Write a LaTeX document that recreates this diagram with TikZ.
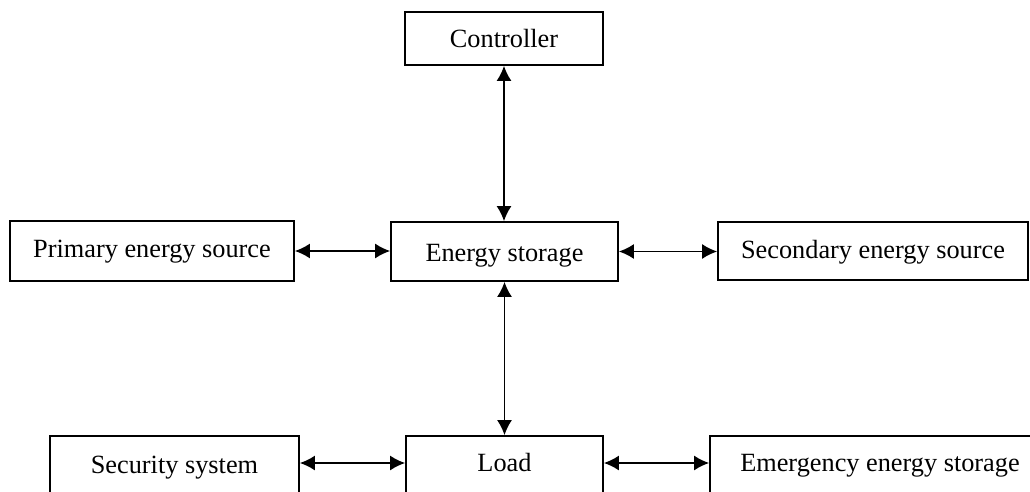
\documentclass[tikz,border=0pt]{standalone}
\usepackage{fontspec}
\setmainfont{Liberation Serif}
\usetikzlibrary{arrows.meta}
\begin{document}
\begin{tikzpicture}[x=1pt,y=-1pt,
  box/.style={draw=black,line width=1.7pt,rectangle,inner sep=0pt,
    text depth=0pt,font=\fontsize{26.3}{30}\selectfont},
  bl/.style={text height=#1},
  link/.style={line width=1.8pt,{Latex[length=15pt,width=15pt]}-{Latex[length=15pt,width=15pt]}}]
\useasboundingbox (0,0) rectangle (1030,492);
\clip (0,0) rectangle (1030,492);
\node[box,bl=19pt,minimum width=198pt,minimum height=53pt] (ctrl) at (504,38.5) {Controller};
\node[box,bl=12pt,minimum width=284pt,minimum height=60pt] (prim) at (152,251) {Primary energy source};
\node[box,bl=20pt,minimum width=227pt,minimum height=59pt] (stor) at (504.5,251.5) {Energy storage};
\node[box,bl=14.6pt,minimum width=310pt,minimum height=58pt] (sec) at (873,251) {Secondary energy source};
\node[box,bl=16pt,minimum width=249pt,minimum height=58pt] (secu) at (174.5,465) {Security system};
\node[box,bl=13.4pt,minimum width=197pt,minimum height=58pt] (load) at (504.5,465) {Load};
\node[box,bl=13.4pt,minimum width=340pt,minimum height=58pt] (emer) at (880,465) {Emergency energy storage};
\draw[link] (ctrl.south) -- (ctrl.south |- stor.north);
\draw[link] (stor.south) -- (stor.south |- load.north);
\draw[link] (prim.east) -- (stor.west |- prim.east);
\draw[link] (stor.east) -- (sec.west |- stor.east);
\coordinate (ly) at (0,463);
\draw[link] (secu.east |- ly) -- (load.west |- ly);
\draw[link] (load.east |- ly) -- (emer.west |- ly);
\end{tikzpicture}
\end{document}
